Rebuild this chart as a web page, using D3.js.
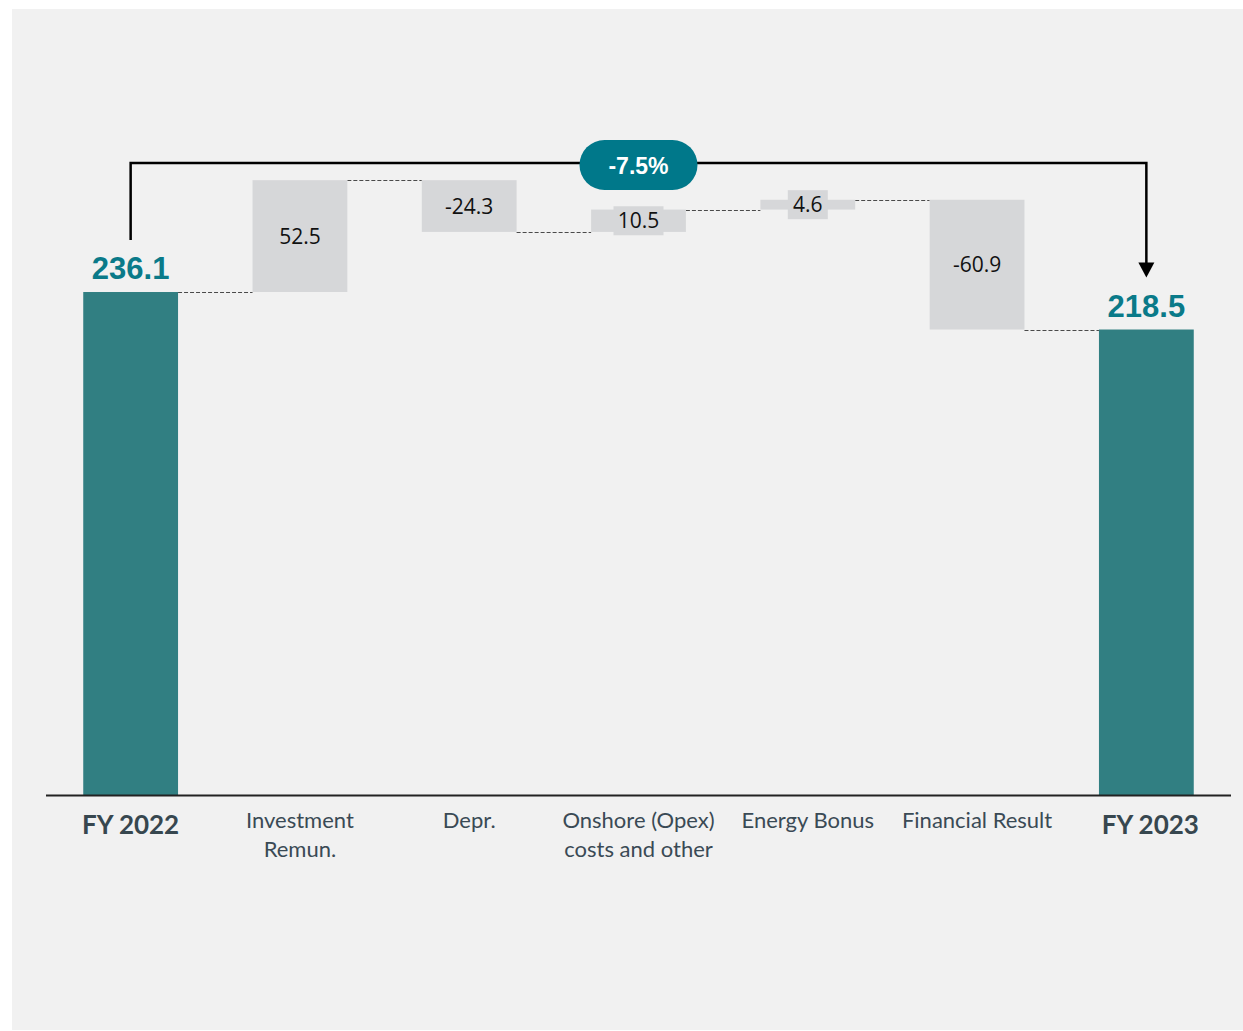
<!DOCTYPE html>
<html>
<head>
<meta charset="utf-8">
<script src="https://cdn.jsdelivr.net/npm/d3@7"></script>
<style>
  html, body { margin: 0; padding: 0; background: #ffffff; }
  svg { display: block; }
</style>
</head>
<body>
<svg id="chart" width="1243" height="1031"></svg>
<script>
// EBITDA bridge FY 2022 -> FY 2023 (EUR m)
const categories = ["FY 2022", "Investment\nRemun.", "Depr.", "Onshore (Opex)\ncosts and other", "Energy Bonus", "Financial Result", "FY 2023"];
const values = [236.1, 52.5, -24.3, 10.5, 4.6, -60.9, 218.5];
const kinds = ["total", "delta", "delta", "delta", "delta", "delta", "total"];
const changeLabel = "-7.5%";

const W = 1243, H = 1031;
const svg = d3.select("#chart");

// panel background
svg.append("rect").attr("x", 12).attr("y", 9).attr("width", W - 12).attr("height", 1021).attr("fill", "#f1f1f1");

const x = d3.scaleBand().domain(categories).range([46, 1231]).paddingInner(0.44).paddingOuter(0.22);
const y = d3.scaleLinear().domain([0, 260]).range([795, 241.1]);

// running totals for the floating steps
let run = 0;
const bars = categories.map((c, i) => {
  const v = values[i];
  let lo, hi, end;
  if (kinds[i] === "total") { lo = 0; hi = v; end = v; run = v; }
  else { const start = run; end = run + v; lo = Math.min(start, end); hi = Math.max(start, end); run = end; }
  return { c, v, kind: kinds[i], lo, hi, end };
});

const g = svg.append("g");

// dashed connectors between consecutive bars
bars.slice(0, -1).forEach((b, i) => {
  const n = bars[i + 1];
  g.append("line")
    .attr("x1", x(b.c) + x.bandwidth()).attr("x2", x(n.c))
    .attr("y1", Math.round(y(b.end)) + 0.5).attr("y2", Math.round(y(b.end)) + 0.5)
    .attr("stroke", "#4a4a4a").attr("stroke-width", 1.2).attr("stroke-dasharray", "4,2");
});

// bars
g.selectAll("rect.bar").data(bars).join("rect")
  .attr("class", "bar")
  .attr("x", d => x(d.c))
  .attr("width", x.bandwidth())
  .attr("y", d => y(d.hi))
  .attr("height", d => y(d.lo) - y(d.hi))
  .attr("fill", d => d.kind === "total" ? "#317f82" : "#d6d7d9");

// delta labels, with a backing box when the step is thin
bars.filter(d => d.kind === "delta").forEach(d => {
  const cx = x(d.c) + x.bandwidth() / 2;
  const cy = (y(d.hi) + y(d.lo)) / 2;
  const h = y(d.lo) - y(d.hi);
  if (h < 30) {
    const txt = d.v.toFixed(1);
    const bw = txt.length * 10 + 10;
    g.append("rect").attr("x", cx - bw / 2).attr("y", cy - 14.5).attr("width", bw).attr("height", 29).attr("fill", "#d6d7d9");
  }
  g.append("text")
    .attr("x", cx).attr("y", cy).attr("dy", "0.36em")
    .attr("text-anchor", "middle")
    .attr("font-family", "'Open Sans', sans-serif").attr("font-size", 21)
    .attr("fill", "#111")
    .text(d.v.toFixed(1));
});

// total labels
bars.filter(d => d.kind === "total").forEach(d => {
  g.append("text")
    .attr("x", x(d.c) + x.bandwidth() / 2).attr("y", y(d.hi) - 13)
    .attr("text-anchor", "middle")
    .attr("font-family", "'Liberation Sans', Arial, sans-serif").attr("font-weight", "bold").attr("font-size", 31)
    .attr("fill", "#0a7a89")
    .text(d.v.toFixed(1));
});

// baseline
svg.append("line").attr("x1", 46).attr("x2", 1231).attr("y1", 795.5).attr("y2", 795.5).attr("stroke", "#222").attr("stroke-width", 2);

// category labels
bars.forEach((d, i) => {
  const cx = x(d.c) + x.bandwidth() / 2;
  const lines = d.c.split("\n");
  const t = svg.append("text")
    .attr("text-anchor", "middle")
    .attr("font-family", "Lato, sans-serif")
    .attr("fill", "#3a4a55");
  if (d.kind === "total") {
    t.attr("font-weight", "bold").attr("font-size", 26).attr("fill", "#37474f")
      .attr("x", cx + (i === 0 ? 0 : 4)).attr("y", 834).text(d.c);
  } else {
    t.attr("font-size", 22);
    lines.forEach((ln, k) => t.append("tspan").attr("x", cx).attr("y", 828 + k * 29).text(ln));
  }
});

// overall change bracket with arrow
const xs = x(categories[0]) + x.bandwidth() / 2;
const xe = x(categories[categories.length - 1]) + x.bandwidth() / 2;
const yb = 163;
svg.append("path")
  .attr("d", `M${xs},${y(values[0]) - 52} V${yb} H${xe} V${y(values[values.length - 1]) - 62}`)
  .attr("fill", "none").attr("stroke", "#000").attr("stroke-width", 2.5);
const tipY = y(values[values.length - 1]) - 52;
svg.append("path")
  .attr("d", `M${xe - 8},${tipY - 15} L${xe + 8},${tipY - 15} L${xe},${tipY} Z`)
  .attr("fill", "#000");

const pcx = (xs + xe) / 2;
svg.append("rect")
  .attr("x", pcx - 59).attr("y", yb - 23).attr("width", 118).attr("height", 50)
  .attr("rx", 25).attr("fill", "#00788a");
svg.append("text")
  .attr("x", pcx).attr("y", yb + 3).attr("dy", "0.36em")
  .attr("text-anchor", "middle")
  .attr("font-family", "'Liberation Sans', Arial, sans-serif").attr("font-weight", "bold").attr("font-size", 23)
  .attr("fill", "#fff")
  .text(changeLabel);
</script>
</body>
</html>
